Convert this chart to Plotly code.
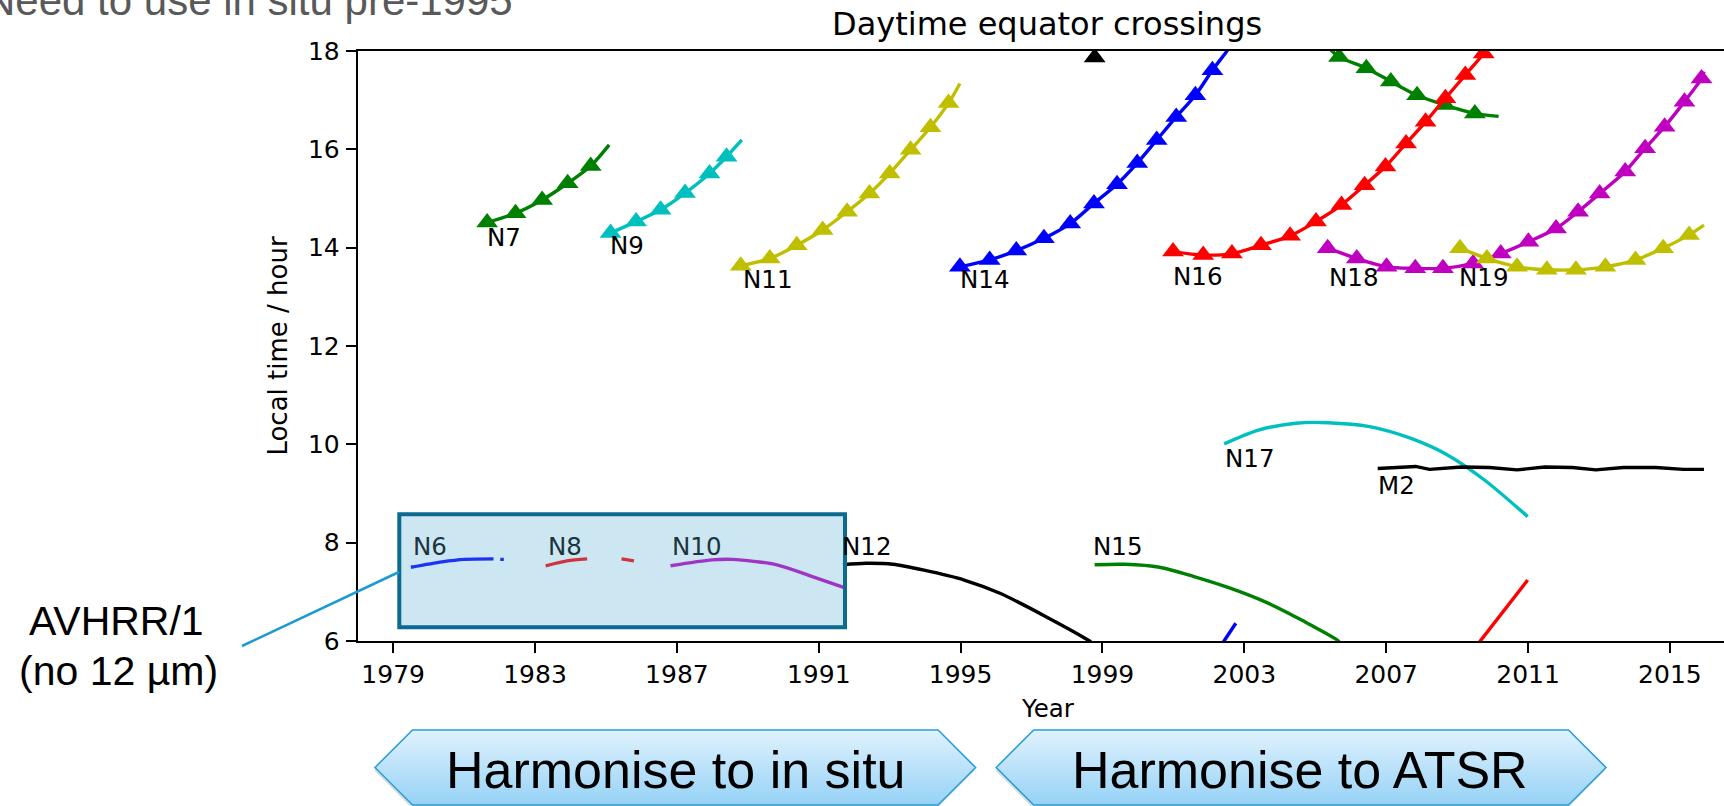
import plotly.graph_objects as go

W, H = 1724, 806

# ------------------------------------------------------------------ data
year_ticks = [1979, 1983, 1987, 1991, 1995, 1999, 2003, 2007, 2011, 2015]
hour_ticks = [6, 8, 10, 12, 14, 16, 18]

# Daytime crossings (with triangle markers)
n7_x = [1981.65, 1982.45, 1983.20, 1983.92, 1984.57, 1985.09]
n7_y = [14.51, 14.70, 14.97, 15.31, 15.66, 16.09]

n9_x = [1985.13, 1985.85, 1986.54, 1987.23, 1987.92, 1988.40, 1988.83]
n9_y = [14.30, 14.53, 14.77, 15.11, 15.51, 15.85, 16.19]

n11_x = [1988.80, 1989.62, 1990.38, 1991.11, 1991.80, 1992.43, 1993.00, 1993.59, 1994.15, 1994.66, 1994.98]
n11_y = [13.63, 13.78, 14.05, 14.36, 14.73, 15.10, 15.51, 15.99, 16.45, 16.94, 17.34]

n14_x = [1994.98, 1995.82, 1996.57, 1997.35, 1998.09, 1998.76, 1999.41, 1999.98, 2000.53, 2001.08, 2001.62, 2002.10, 2002.49, 2002.62]
n14_y = [13.61, 13.75, 13.94, 14.19, 14.49, 14.90, 15.29, 15.72, 16.19, 16.66, 17.10, 17.61, 17.98, 18.12]

k_day_x = [1998.78]
k_day_y = [17.87]

g_day_x = [2005.40, 2005.67, 2006.44, 2007.13, 2007.87, 2008.66, 2009.50, 2010.17]
g_day_y = [18.05, 17.88, 17.65, 17.38, 17.10, 16.90, 16.73, 16.67]

n16_x = [2000.99, 2001.84, 2002.65, 2003.47, 2004.29, 2005.02, 2005.74, 2006.39, 2006.98, 2007.56, 2008.11, 2008.67, 2009.23, 2009.75, 2009.95]
n16_y = [13.92, 13.85, 13.88, 14.05, 14.24, 14.53, 14.87, 15.27, 15.65, 16.12, 16.56, 17.04, 17.51, 17.95, 18.15]

n18_x = [2005.35, 2006.17, 2007.01, 2007.82, 2008.60, 2009.45, 2010.23, 2011.01, 2011.79, 2012.41, 2013.02, 2013.74, 2014.30, 2014.85, 2015.41, 2015.89, 2015.96]
n18_y = [13.99, 13.78, 13.61, 13.58, 13.58, 13.68, 13.88, 14.12, 14.39, 14.73, 15.10, 15.55, 16.02, 16.46, 16.97, 17.44, 17.58]

n19_x = [2009.08, 2009.84, 2010.69, 2011.53, 2012.35, 2013.18, 2014.03, 2014.81, 2015.54, 2015.96]
n19_y = [13.99, 13.78, 13.61, 13.55, 13.55, 13.61, 13.75, 13.99, 14.26, 14.46]

# Morning / other crossings (lines only)
n6_x = [1979.50, 1980.38, 1981.01, 1981.83, None, 1982.02, 1982.12]
n6_y = [7.50, 7.61, 7.66, 7.67, None, 7.66, 7.66]

n8_x = [1983.30, 1983.90, 1984.47, None, 1985.44, 1985.79]
n8_y = [7.53, 7.63, 7.67, None, 7.67, 7.63]

n10_x = [1986.82, 1987.99, 1988.56, 1989.82, 1990.82, 1991.70]
n10_y = [7.53, 7.65, 7.66, 7.55, 7.31, 7.09]

n12_x = [1991.68, 1992.33, 1993.09, 1993.97, 1995.10, 1996.11, 1997.42, 1998.59, 1998.72]
n12_y = [7.55, 7.58, 7.56, 7.44, 7.24, 6.97, 6.49, 6.02, 5.95]

n15_x = [1998.78, 1999.63, 2000.61, 2001.58, 2002.62, 2003.67, 2004.71, 2005.62, 2005.70]
n15_y = [7.55, 7.56, 7.50, 7.31, 7.07, 6.77, 6.39, 6.02, 5.96]

n14_low_x = [2002.40, 2002.76]
n14_low_y = [5.97, 6.36]

n16_low_x = [2009.62, 2010.99]
n16_low_y = [5.97, 7.24]

n17_x = [2002.43, 2003.40, 2004.45, 2005.36, 2006.53, 2007.70, 2008.74, 2009.78, 2010.99]
n17_y = [10.01, 10.29, 10.43, 10.44, 10.36, 10.12, 9.78, 9.27, 8.53]

m2_x = [2006.76, 2007.83, 2008.22, 2009.13, 2009.91, 2010.69, 2011.47, 2012.25, 2012.91, 2013.69, 2014.60, 2015.38, 2015.96]
m2_y = [9.51, 9.55, 9.49, 9.54, 9.53, 9.48, 9.54, 9.53, 9.48, 9.53, 9.53, 9.49, 9.49]

# satellite labels and their anchor (year, hour)
label_names = ["N7", "N9", "N11", "N14", "N16", "N18", "N19",
               "N6", "N8", "N10", "N12", "N15", "N17", "M2"]
label_years = [1981.60, 1985.05, 1988.80, 1994.94, 2000.94, 2005.32, 2009.00,
               1979.50, 1983.30, 1986.80, 1991.60, 1998.68, 2002.39, 2006.71]
label_hours = [14.21, 14.05, 13.36, 13.36, 13.42, 13.39, 13.39,
               7.93, 7.93, 7.93, 7.93, 7.92, 9.72, 9.17]

# ------------------------------------------------------------------ style
C = dict(b="#0000ff", g="#008000", r="#ff0000", c="#00bfbf",
         m="#bf00bf", y="#bfbf00", k="#000000")
MPL_FONT = "DejaVu Sans, Liberation Sans, sans-serif"
PPT_FONT = "Liberation Sans, Arial, sans-serif"
LW = 3.4
MS = 19

fig = go.Figure()


def add_series(x, y, color, mark=None, shape="spline"):
    sizes = None
    mode = "lines"
    if mark is not None:
        a, b = mark
        sizes = [MS if a <= i < b else 0 for i in range(len(x))]
        mode = "lines+markers"
    fig.add_trace(go.Scatter(
        x=x, y=y, mode=mode,
        line=dict(color=color, width=LW, shape=shape, smoothing=0.8),
        marker=dict(symbol="triangle-up", size=sizes, color=color, opacity=1,
                    line=dict(width=0)) if sizes else None,
        connectgaps=False, showlegend=False, hoverinfo="skip"))


add_series(n7_x, n7_y, C["g"], (0, len(n7_x) - 1))
add_series(n9_x, n9_y, C["c"], (0, len(n9_x) - 1))
add_series(n11_x, n11_y, C["y"], (0, len(n11_x) - 1))
add_series(n14_x, n14_y, C["b"], (0, len(n14_x) - 2))
add_series(g_day_x, g_day_y, C["g"], (1, len(g_day_x) - 1))
add_series(n16_x, n16_y, C["r"], (0, len(n16_x) - 1))
add_series(n18_x, n18_y, C["m"], (0, len(n18_x) - 1))
add_series(n19_x, n19_y, C["y"], (0, len(n19_x) - 1))
fig.add_trace(go.Scatter(x=k_day_x, y=k_day_y, mode="markers",
                         marker=dict(symbol="triangle-up", size=MS, color=C["k"], line=dict(width=0)),
                         showlegend=False, hoverinfo="skip"))

add_series(n6_x, n6_y, C["b"])
add_series(n8_x, n8_y, C["r"])
add_series(n10_x, n10_y, C["m"])
add_series(n12_x, n12_y, C["k"])
add_series(n15_x, n15_y, C["g"])
add_series(n14_low_x, n14_low_y, C["b"], shape="linear")
add_series(n16_low_x, n16_low_y, C["r"], shape="linear")
add_series(n17_x, n17_y, C["c"])
add_series(m2_x, m2_y, C["k"], shape="linear")

# ------------------------------------------------------------------ layout
PL, PT, PB = 357.7, 51.0, 641.0  # plot area in pixels


def px(x, y):
    return x / W, 1 - y / H


annotations = []
inside_box = {"N6", "N8", "N10"}
for nm, xv, yv in zip(label_names, label_years, label_hours):
    annotations.append(dict(
        x=xv, y=yv, xref="x", yref="y", text=nm, showarrow=False,
        xanchor="left", yanchor="middle",
        font=dict(family=MPL_FONT, size=24.5,
                  color="#1b3540" if nm in inside_box else "#000000")))


def text_px(x, y, text, size, font, color="#000000", xanchor="center", angle=0):
    xp, yp = px(x, y)
    annotations.append(dict(x=xp, y=yp, xref="paper", yref="paper", text=text,
                            showarrow=False, xanchor=xanchor, yanchor="middle",
                            textangle=angle,
                            font=dict(family=font, size=size, color=color)))


text_px(1047.4, 24.2, "Daytime equator crossings", 32, MPL_FONT)
text_px(1048.4, 708.8, "Year", 24.5, MPL_FONT)
text_px(278.3, 345.3, "Local time / hour", 26, MPL_FONT, angle=-90)
text_px(-17, 0.4, "Need to use in situ pre-1995", 42, PPT_FONT, color="#595959", xanchor="left")
text_px(116, 620.8, "AVHRR/1", 41, PPT_FONT)
text_px(118.5, 670.8, "(no 12 µm)", 41, PPT_FONT)
text_px(676.4, 770, "Harmonise to in situ", 52, PPT_FONT)
text_px(1300.3, 770, "Harmonise to ATSR", 52, PPT_FONT)

shapes = []


def path_str(pts):
    s = ""
    for i, (x, y) in enumerate(pts):
        xp, yp = px(x, y)
        s += ("M" if i == 0 else "L") + f"{xp:.6f},{yp:.6f}"
    return s + "Z"


def hex_banner(L, R, top, bot, d):
    cy = (top + bot) / 2
    h = (bot - top) / 2

    def lx(y):
        return L + d * abs(y - cy) / h

    def rx(y):
        return R - d * abs(y - cy) / h

    outline = [(L, cy), (L + d, top), (R - d, top), (R, cy), (R - d, bot), (L + d, bot)]
    # soft shadow
    shapes.append(dict(type="path", xref="paper", yref="paper",
                       path=path_str([(x - 1, y + 3) for x, y in outline]),
                       fillcolor="rgba(0,0,0,0.13)", line=dict(width=0), layer="above"))
    c0 = (224, 242, 253)
    c1 = (150, 210, 246)
    n = 40
    for i in range(n):
        y0 = top + i * (bot - top) / n
        y1 = min(bot, y0 + (bot - top) / n + 0.8)
        t = (i + 0.5) / n
        col = tuple(round(c0[k] + (c1[k] - c0[k]) * t) for k in range(3))
        pts = [(lx(y0), y0)]
        if y0 < cy < y1:
            pts.append((lx(cy), cy))
        pts.append((lx(y1), y1))
        pts.append((rx(y1), y1))
        if y0 < cy < y1:
            pts.append((rx(cy), cy))
        pts.append((rx(y0), y0))
        shapes.append(dict(type="path", xref="paper", yref="paper", path=path_str(pts),
                           fillcolor=f"rgb{col}", line=dict(width=0), layer="above"))
    shapes.append(dict(type="path", xref="paper", yref="paper", path=path_str(outline),
                       fillcolor="rgba(0,0,0,0)", line=dict(color="#2a9fd6", width=1.6),
                       layer="above"))


hex_banner(375.0, 975.6, 730.0, 805.0, 37.5)
hex_banner(996.2, 1606.0, 730.0, 805.0, 37.5)

# AVHRR/1 highlight box and callout line
bx0, by0 = px(399.3, 514.3)
bx1, by1 = px(845.0, 627.3)
shapes.append(dict(type="rect", xref="paper", yref="paper", x0=bx0, y0=by1, x1=bx1, y1=by0,
                   fillcolor="rgba(88,175,212,0.30)", line=dict(color="#0b6a90", width=4),
                   layer="above"))
lx0, ly0 = px(242, 646)
lx1, ly1 = px(399, 572)
shapes.append(dict(type="line", xref="paper", yref="paper", x0=lx0, y0=ly0, x1=lx1, y1=ly1,
                   line=dict(color="#1b9bd1", width=2.5), layer="above"))

fig.update_layout(
    width=W, height=H, autosize=False,
    margin=dict(l=0, r=0, t=0, b=0, pad=0, autoexpand=False),
    paper_bgcolor="white", plot_bgcolor="white",
    showlegend=False,
    annotations=annotations,
    shapes=shapes,
    xaxis=dict(domain=[PL / W, 1.0], range=[1978.0, 2016.525], automargin=False,
               tickmode="array", tickvals=year_ticks, ticktext=[str(v) for v in year_ticks],
               ticks="outside", ticklen=10, tickwidth=2, tickcolor="black",
               showline=True, linecolor="black", linewidth=2, mirror=True,
               showgrid=False, zeroline=False, ticklabelstandoff=0,
               tickfont=dict(family=MPL_FONT, size=25, color="black")),
    yaxis=dict(domain=[1 - PB / H, 1 - PT / H], range=[6, 18], automargin=False,
               tickmode="array", tickvals=hour_ticks, ticktext=[str(v) for v in hour_ticks],
               ticks="outside", ticklen=10, tickwidth=2, tickcolor="black",
               showline=True, linecolor="black", linewidth=2, mirror=False,
               showgrid=False, zeroline=False, ticklabelstandoff=1,
               tickfont=dict(family=MPL_FONT, size=25, color="black")),
)

fig.write_html("out.html")
